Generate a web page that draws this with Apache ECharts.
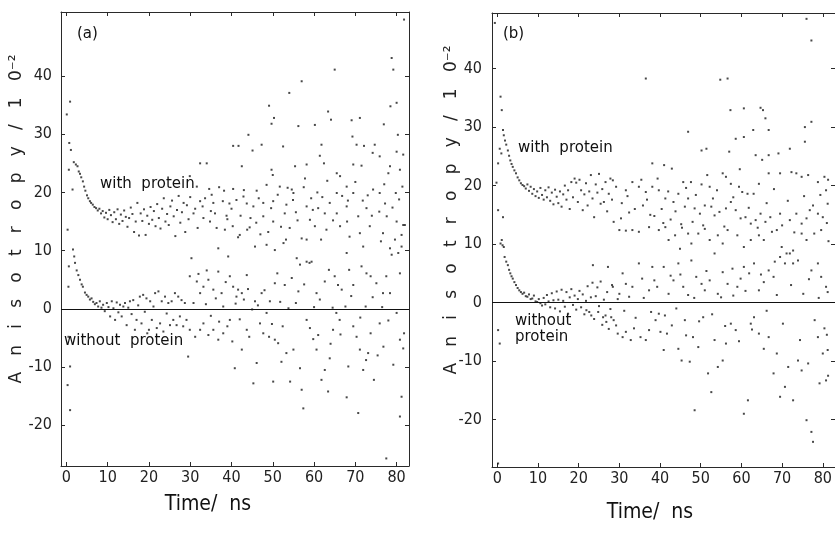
<!DOCTYPE html>
<html>
<head>
<meta charset="utf-8">
<script src="https://cdn.jsdelivr.net/npm/echarts@6/dist/echarts.min.js"></script>
<style>html,body{margin:0;padding:0;background:#fff;}#chart{width:835px;height:542px;}</style>
</head>
<body>
<div id="chart"></div>
<script>
// ---- tick values ----
const timeTicks = [0, 10, 20, 30, 40, 50, 60, 70, 80];
const anisoTicks = [-20, -10, 0, 10, 20, 30, 40];

// ---- panel (a): with protein [time ns, anisotropy x10^-2] ----
const a_with = [
[0.1,33.4],[0.9,35.6],[0.7,28.5],[1.1,27.3],[0.6,23.9],[1.5,20.5],[0.3,13.6],
[1.8,25.2],[2.3,24.8],[2.7,24.5],[3.0,23.6],[3.3,23.2],[3.6,22.6],[4.0,21.9],[4.3,21.0],[4.6,20.3],
[5.0,19.5],[5.3,19.0],[5.7,18.5],[6.0,18.2],[6.4,17.9],[6.8,17.5],[7.2,17.3],[7.6,16.9],[8.0,17.2],
[8.4,16.4],[8.8,16.8],[9.2,15.7],[9.6,16.5],[10.0,15.4],[10.4,17.0],[10.8,16.1],[11.2,14.9],[11.6,16.6],
[12.0,15.4],[12.4,17.1],[12.8,14.6],[13.2,16.2],[13.6,15.1],[14.0,16.9],[14.4,15.8],[14.8,14.1],[15.2,15.6],
[15.6,17.4],[16.0,16.3],[16.4,13.2],[16.8,15.0],[17.2,18.2],[17.6,12.6],[18.0,16.4],[18.4,15.1],[18.8,17.1],
[19.2,12.7],[19.6,16.0],[20.0,14.6],[20.4,17.5],[20.8,15.3],[21.2,16.8],[21.6,14.2],[22.0,18.0],[22.4,15.6],
[22.8,13.8],[23.2,17.2],[23.6,19.0],[24.0,15.0],[24.4,16.3],[24.8,14.4],[25.2,17.6],[25.6,18.6],[26.0,15.9],
[26.4,12.5],[26.8,17.0],[27.2,19.4],[27.6,14.8],[28.0,16.6],[28.4,18.2],[28.8,13.2],[29.2,17.8],[29.6,15.4],[30.0,19.2],
[81.8,49.7],[78.8,43.1],[79.2,41.1],[80.0,35.4],[78.5,34.8],[65.0,41.1],[57.0,39.1],[54.0,37.1],[49.1,34.9],
[50.3,32.8],[49.7,31.8],[63.4,33.9],[64.1,32.5],[56.2,31.4],[60.2,31.6],[71.1,32.8],[69.1,32.4],[76.9,31.7],
[80.3,29.9],[69.3,29.6],[70.3,28.2],[72.1,28.0],[74.7,28.2],[74.2,26.8],[75.9,26.2],[81.6,26.5],[80.0,27.0],
[44.1,29.9],[40.4,28.0],[41.7,28.0],[45.1,27.2],[47.3,28.2],[52.5,27.9],[61.8,28.2],[61.4,26.3],[62.4,25.0],
[58.2,24.8],[32.4,25.0],[34.0,25.0],[42.5,24.5],[49.7,23.9],[50.0,23.0],[55.4,24.5],[65.5,23.3],[66.3,22.8],
[69.5,24.8],[71.5,24.6],[78.0,23.3],[78.4,24.5],[80.8,23.9],[29.9,22.8],[31.6,21.0],[34.6,20.6],[37.0,20.9],
[40.4,20.6],[42.9,19.3],[46.1,20.3],[48.5,21.3],[51.7,21.0],[54.6,20.5],[55.0,19.9],[57.5,20.9],[67.9,21.0],
[65.5,19.9],[69.5,19.9],[74.3,20.5],[75.9,19.9],[79.8,19.9],[81.4,21.0],[32.4,18.5],[33.6,19.0],[35.6,18.2],
[37.9,18.5],[39.5,18.1],[41.2,18.7],[43.7,18.1],[45.3,17.6],[47.7,18.2],[50.1,18.5],[53.3,17.9],[54.9,18.7],
[58.2,17.6],[59.7,17.0],[61.0,17.3],[62.6,16.4],[63.8,18.2],[65.5,16.4],[67.9,17.6],[70.7,15.9],[72.7,17.3],
[75.8,16.7],[77.6,15.9],[80.0,15.0],[81.6,14.4],[30.8,16.4],[33.2,15.6],[34.8,15.0],[36.4,13.9],[38.4,13.6],
[40.3,14.2],[42.0,12.7],[43.8,13.6],[46.0,14.8],[47.7,15.9],[50.1,15.0],[52.9,16.4],[53.2,11.9],[54.1,13.9],
[57.0,12.1],[58.2,11.9],[60.2,14.2],[61.7,11.9],[63.0,13.6],[66.3,14.2],[68.6,12.4],[71.1,13.0],[73.5,14.2],
[76.7,13.0],[78.4,10.4],[79.6,11.9],[81.2,12.7],[82.0,14.4],[36.8,10.4],[39.2,9.0],[41.6,12.3],[45.7,10.7],
[48.5,11.0],[50.5,10.1],[52.6,11.3],[55.8,8.7],[56.6,7.6],[58.9,7.9],[67.9,9.6],[71.9,10.7],[78.8,9.3],
[80.4,9.6],[81.2,10.7],[31.2,17.2],[35.0,16.8],[38.8,16.0],[44.6,15.6],[48.9,13.2],[56.0,15.2],[59.3,19.0],
[64.6,15.2],[68.2,18.6],[73.0,19.5],[76.2,11.6],[77.2,18.1],
[31.8,13.9],[33.0,17.6],[35.2,19.6],[36.0,16.4],[38.2,20.3],[39.0,15.4],[40.0,17.2],[42.2,16.0],[43.0,20.4],
[44.4,14.0],[46.6,19.0],[47.0,12.8],[49.6,17.3],[51.2,19.6],[52.0,14.1],[53.6,20.8],[55.6,16.6],[57.8,22.4],
[59.0,15.3],[60.8,20.0],[62.0,19.2],[63.2,22.0],[66.8,19.4],[68.0,15.0],[70.0,21.8],[71.8,18.6],[74.0,16.0],
[77.0,21.4],[79.0,17.4],[80.6,18.8]
];

// ---- panel (a): without protein ----
const a_without = [
[0.5,3.8],[0.6,7.3],[0.5,-4.8],[0.9,-9.9],[0.3,-13.1],[0.9,-17.4],
[1.6,10.2],[1.9,9.0],[2.1,7.9],[2.5,6.6],[2.9,5.8],[3.3,5.0],[3.7,4.2],[4.0,3.8],[4.5,2.8],[4.9,2.4],
[5.3,2.1],[5.7,1.6],[6.1,1.8],[6.5,1.2],[6.9,0.8],[7.3,1.0],[7.7,0.4],[8.1,1.3],[8.5,0.2],[8.9,0.7],
[9.3,-0.4],[9.8,1.0],[10.2,0.3],[10.6,-1.3],[11.0,1.3],[11.4,0.1],[11.8,-1.9],[12.2,1.1],[12.6,-0.6],
[13.0,0.7],[13.4,-1.3],[13.8,0.4],[14.2,1.0],[14.6,-2.8],[15.0,0.2],[15.4,1.3],[15.8,-0.9],[16.2,1.5],
[16.6,-3.6],[17.0,-1.9],[17.4,0.6],[17.8,2.1],[18.2,-2.5],[18.6,2.4],[19.0,-0.5],[19.4,1.8],[19.6,-4.2],
[20.0,-3.6],[20.3,1.3],[20.7,-1.9],[21.1,0.4],[21.5,2.7],[21.9,-3.3],[22.3,3.0],[22.7,-2.5],[23.1,1.3],
[23.5,-3.9],[23.9,2.1],[24.3,-0.8],[24.7,1.0],[25.1,-2.8],[25.5,1.3],[25.9,-1.9],[26.3,2.7],[26.7,-2.8],
[27.1,2.1],[27.5,-1.3],[27.9,1.5],[28.3,-3.0],[28.7,1.0],[29.1,-1.9],[29.5,-8.2],
[29.9,5.6],[30.3,8.7],[31.6,4.7],[32.4,2.7],[33.2,3.8],[34.0,6.6],[34.4,5.0],[35.6,3.3],[36.8,6.4],
[37.6,2.7],[39.6,5.6],[40.4,3.8],[41.2,2.1],[41.6,3.3],[42.5,2.7],[43.7,5.8],[45.7,1.3],[47.3,2.7],
[49.3,1.3],[50.5,4.4],[51.1,6.1],[52.9,4.1],[54.6,5.3],[56.2,3.0],[58.2,8.1],[59.4,8.1],[60.6,2.7],
[62.6,4.7],[63.6,6.7],[65.0,5.6],[65.8,4.1],[66.7,3.3],[68.5,6.7],[69.5,4.1],[71.5,7.3],[72.7,6.1],
[73.7,5.6],[75.1,4.4],[76.7,2.7],[77.5,5.6],[78.4,2.7],[80.8,6.1],
[38.0,0.4],[45.0,-0.1],[53.8,0.1],[60.0,0.3],[64.5,0.2],[67.6,0.4],[72.5,0.4],[76.5,0.3],
[29.9,-3.6],[31.2,-4.8],[32.4,-3.6],[33.2,-2.5],[34.4,-4.5],[35.6,-3.6],[36.8,-5.3],[38.0,-4.2],[39.6,-1.9],
[40.2,-5.6],[40.8,-10.2],[42.5,-7.0],[43.7,-3.6],[44.3,-4.8],[45.3,-12.8],[46.1,-9.3],[46.9,-2.5],[47.7,-4.2],
[48.5,-0.7],[49.1,-4.8],[50.5,-5.3],[51.3,-5.9],[50.1,-12.5],[52.1,-9.1],[53.3,-7.6],[54.2,-12.5],[55.0,-7.0],
[56.6,-10.2],[57.0,-13.9],[57.4,-17.1],[58.2,-1.9],[59.0,-3.3],[60.6,-7.0],[61.0,-4.5],[61.8,-12.2],[62.6,-10.5],
[63.4,-14.2],[63.8,-8.5],[64.6,-3.6],[65.4,-0.7],[66.2,-1.9],[67.9,-15.2],[68.3,-9.9],[69.5,-3.0],[70.3,-4.8],
[70.7,-17.9],[71.1,-7.0],[71.9,-10.5],[72.6,-8.8],[73.1,-7.6],[73.7,-4.2],[74.5,-12.2],[75.9,-2.5],[76.8,-6.5],
[77.5,-25.7],[80.0,-0.7],[80.8,-5.3],[81.6,-6.8],[81.2,-15.1],[80.8,-18.5],[81.8,-4.2],
[30.8,1.0],[32.0,6.0],[33.8,0.8],[35.0,-1.2],[36.2,1.8],[37.0,-2.2],[38.6,4.6],[39.0,-3.0],[41.0,0.9],
[42.0,-1.8],[43.0,1.6],[44.0,3.4],[46.4,0.6],[48.0,3.2],[49.8,-2.6],[51.8,1.2],[52.4,-3.0],[55.6,1.0],
[57.6,4.2],[59.8,-5.2],[61.4,1.6],[64.0,-6.0],[66.4,-4.4],[69.0,2.2],[71.2,-1.5],[74.2,2.0],[75.4,-8.0],
[78.0,-2.0],[79.2,-9.6]
];

// ---- panel (b): with protein ----
const b_with = [
[-0.6,47.8],[0.8,35.2],[1.1,32.9],[1.4,29.5],[1.6,28.6],[0.6,26.3],[1.0,25.5],[0.2,23.8],[-0.2,20.5],[0.2,15.8],[1.4,14.6],
[1.9,27.7],[2.2,27.0],[2.6,26.0],[2.9,25.1],[3.2,24.3],[3.5,23.7],[3.8,23.2],[4.2,22.6],[4.6,22.1],[5.0,21.4],
[5.4,20.9],[5.8,20.4],[6.2,20.1],[6.6,19.9],[7.0,19.5],[7.4,20.2],[7.8,19.1],[8.2,19.8],[8.6,18.6],[9.0,19.4],
[9.4,18.2],[9.8,19.0],[10.2,17.9],[10.6,19.6],[11.0,18.4],[11.4,17.6],[11.8,19.2],[12.2,18.0],[12.6,19.7],
[13.0,17.4],[13.4,18.8],[13.8,16.8],[14.2,19.3],[14.6,18.1],[15.0,17.0],[15.4,19.0],[15.8,16.4],[16.2,18.5],
[16.6,20.0],[17.0,17.6],[17.4,19.2],[17.8,16.0],[18.2,20.6],[18.6,18.0],[19.0,21.2],[19.4,20.5],[19.8,17.2],
[20.2,21.0],[20.6,19.2],[21.0,15.8],[21.4,18.5],[21.8,20.4],[22.2,16.6],[22.6,19.0],[23.0,21.8],[23.4,17.8],
[23.8,14.6],[24.2,20.2],[24.6,18.8],[25.0,22.0],[25.4,16.9],[25.8,19.4],[26.2,17.2],[26.6,20.6],[27.0,15.6],
[27.4,18.6],[27.8,21.2],[28.2,17.6],[28.6,13.8],
[76.0,48.5],[77.2,44.8],[56.6,38.3],[54.8,38.1],[36.5,38.3],[57.3,32.9],[60.6,33.2],[64.7,33.3],[65.3,32.9],
[65.9,31.5],[66.7,29.5],[62.9,29.5],[75.6,30.0],[77.2,30.9],[58.6,28.0],[60.6,28.3],[46.9,29.2],[50.2,26.0],
[51.4,26.3],[57.0,25.8],[63.5,25.2],[65.1,24.4],[66.7,25.2],[69.1,25.5],[71.9,26.3],[75.6,27.5],[38.1,23.8],
[41.0,23.5],[42.9,22.9],[45.7,20.6],[47.6,20.6],[50.2,20.2],[52.2,19.8],[55.4,22.1],[56.2,21.5],[57.4,20.3],
[59.4,19.8],[60.2,18.9],[61.5,18.6],[64.3,20.3],[66.7,22.1],[69.5,22.1],[72.3,22.3],[73.5,22.1],[74.8,21.5],
[76.4,21.8],[78.8,20.6],[80.4,21.5],[28.4,20.9],[29.2,19.8],[31.6,19.2],[33.2,20.6],[34.8,19.8],[36.5,18.9],
[38.1,19.8],[39.7,19.2],[41.3,17.8],[43.3,17.2],[44.5,18.6],[46.1,16.4],[46.9,17.8],[48.5,16.1],[49.8,15.2],
[51.0,16.6],[52.6,16.4],[53.4,14.9],[54.6,15.5],[56.2,16.1],[57.4,17.2],[58.6,15.8],[59.8,14.4],[61.0,14.6],
[62.3,13.5],[63.5,14.1],[64.7,15.2],[65.9,13.8],[67.1,14.6],[68.7,12.4],[69.5,15.2],[71.9,14.1],[73.5,15.2],
[74.8,13.5],[76.0,14.4],[76.8,15.8],[78.8,15.2],[80.0,14.6],[81.2,16.9],[30.0,12.4],[31.6,12.3],[33.2,12.4],
[34.8,12.1],[37.3,12.9],[39.7,12.4],[41.3,12.9],[42.1,10.7],[43.7,11.5],[44.9,9.2],[46.9,11.8],[47.7,10.1],
[49.4,11.8],[51.0,12.6],[52.2,10.7],[54.2,11.5],[55.4,10.1],[56.6,12.4],[59.0,11.5],[60.6,9.5],[62.3,10.7],
[64.3,11.5],[65.5,10.7],[67.5,12.1],[69.9,9.5],[71.1,8.4],[72.7,8.9],[74.8,11.8],[76.0,10.7],[77.9,11.8],
[79.6,12.4],[30.6,17.0],[32.4,15.4],[35.8,16.6],[37.6,15.0],[40.4,16.0],[42.6,14.2],[45.2,13.4],[48.0,13.8],
[81.3,21.0],[80.8,19.2],[81.0,13.6],
[30.4,14.4],[32.0,18.2],[33.8,16.0],[35.4,21.0],[36.8,17.6],[38.6,14.8],[39.4,21.2],[40.8,13.6],[42.0,19.0],
[43.8,15.6],[45.4,12.8],[46.4,19.6],[48.8,18.4],[50.6,13.2],[51.6,21.8],[53.0,17.8],[54.0,19.2],[55.8,13.0],
[58.0,18.0],[59.6,22.8],[61.8,16.2],[63.0,18.6],[64.0,12.8],[66.2,17.0],[68.0,19.4],[70.0,13.2],[71.4,17.4],
[73.0,12.0],[75.4,18.2],[77.6,16.6],[79.4,18.4]
];

// ---- panel (b): without protein ----
const b_without = [
[0.2,-4.7],[0.6,-7.0],[0.2,-27.5],[0.8,10.1],[1.1,10.7],[1.3,9.8],[1.6,9.5],[1.8,7.8],[2.2,7.0],[2.6,6.4],
[2.9,5.6],[3.2,5.0],[3.5,4.5],[3.8,4.1],[4.2,3.5],[4.6,3.0],[5.0,2.5],[5.4,2.1],[5.8,1.8],[6.2,1.5],
[6.6,1.7],[7.0,1.1],[7.4,1.0],[7.8,1.4],[8.2,0.6],[8.6,0.7],[9.0,1.2],[9.4,0.2],[9.8,0.1],[10.2,0.6],
[10.6,-0.1],[11.0,-0.5],[11.4,0.8],[11.8,-0.3],[12.2,1.3],[12.6,0.2],[13.0,-0.8],[13.4,1.6],[13.8,0.4],
[14.2,-1.0],[14.6,1.9],[15.0,0.5],[15.4,-1.5],[15.8,2.2],[16.2,0.3],[16.6,-0.7],[17.0,1.8],[17.4,-1.9],
[17.8,0.9],[18.2,2.3],[18.6,-0.4],[19.0,1.2],[19.4,-1.2],[19.8,0.6],[20.2,2.0],[20.6,-0.8],[21.0,1.4],
[21.4,-2.0],[21.8,0.3],[22.2,2.8],[22.6,-1.6],[23.0,0.9],[23.4,3.4],[23.8,-2.8],[24.2,1.1],[24.6,2.6],
[25.0,-0.6],[25.4,3.6],[25.8,-3.8],[26.2,0.5],[26.6,-2.2],[27.0,1.8],[27.4,-4.5],[27.8,-1.1],[28.2,3.0],[28.6,-3.0],
[23.5,6.4],[27.2,6.1],[30.8,5.0],[28.4,2.7],[30.0,1.5],[31.6,3.2],[33.2,2.7],[34.8,6.7],[35.6,4.1],[37.3,2.1],
[38.1,6.1],[39.3,2.7],[40.9,6.1],[42.1,1.5],[43.3,3.8],[44.5,6.7],[45.7,2.7],[46.9,1.3],[47.7,7.2],[48.9,4.4],
[50.2,3.2],[51.0,2.1],[52.2,3.8],[53.4,8.4],[54.2,1.5],[55.4,5.2],[56.6,3.2],[57.8,5.8],[59.0,2.7],[59.8,4.1],
[60.6,6.1],[61.9,5.0],[63.1,6.7],[64.3,2.1],[65.5,3.5],[66.7,5.5],[67.9,4.4],[68.7,1.3],[69.5,7.8],[70.7,6.7],
[71.9,8.4],[72.7,6.7],[73.9,7.2],[75.2,1.5],[77.2,5.5],[78.8,6.7],[79.6,4.4],[80.8,2.7],
[21.9,-1.3],[23.1,-2.2],[24.8,-1.6],[26.0,-2.5],[26.8,-3.3],[28.0,-2.5],[29.2,-3.9],[29.6,-5.3],[30.8,-5.9],
[31.6,-5.0],[32.8,-6.4],[33.6,-4.4],[35.2,-5.9],[36.5,-6.4],[37.3,-4.7],[38.9,-3.0],[39.7,-1.9],[40.1,-5.0],
[40.9,-8.1],[41.7,-5.3],[42.9,-3.9],[44.5,-7.9],[45.3,-9.9],[46.1,-3.0],[47.3,-10.1],[48.1,-5.9],[48.5,-18.4],
[49.4,-7.6],[50.6,-2.5],[51.8,-12.1],[52.6,-15.3],[53.4,-6.4],[54.2,-11.0],[55.4,-9.9],[56.2,-7.0],[57.4,-3.6],
[58.6,-4.7],[60.6,-19.0],[61.6,-16.7],[62.3,-3.6],[63.1,-2.5],[64.3,-5.3],[65.5,-7.9],[66.7,-5.9],[67.9,-12.1],
[68.7,-8.7],[69.5,-16.1],[70.7,-14.4],[71.5,-11.0],[72.7,-16.7],[73.9,-9.9],[74.8,-11.6],[76.0,-20.1],[77.2,-22.1],
[77.6,-23.8],[76.4,-10.4],[78.8,-5.9],[80.0,-8.7],[80.8,-13.3],[79.2,-13.8],[78.0,-3.0],[80.4,-4.4],[81.2,-8.1],
[81.4,10.5],[81.2,1.8],[81.0,-5.5],[81.3,-12.5],
[29.6,0.6],[31.2,-1.4],[32.4,1.0],[34.0,-2.6],[36.0,0.8],[37.8,-1.6],[38.6,3.8],[41.2,-2.2],[42.6,4.6],
[44.0,-1.0],[45.0,4.8],[46.4,-5.6],[48.4,0.8],[49.6,-3.2],[51.4,5.4],[52.8,-2.0],[55.0,0.9],[56.0,-4.0],
[58.0,1.2],[59.4,-6.6],[61.0,2.0],[62.6,-4.6],[64.8,4.8],[66.2,-1.4],[68.2,7.0],[70.2,-3.6],[72.2,3.0],
[74.4,-6.4],[76.6,4.0],[79.0,0.8]
];

// ---- axis ranges of the two panels ----
const xRange = [-1.3, 83];
const yRangeA = [-27, 51];
const yRangeB = [-28.1, 49.5];

const tickFont = "'Liberation Sans Narrow','DejaVu Sans Condensed','Arial Narrow',sans-serif";
const textFont = "'DejaVu Sans',sans-serif";
const lineCol = '#2a2a2a';

function xAx(gi, pos, labels) {
  return {
    type: 'value', gridIndex: gi, position: pos, min: xRange[0], max: xRange[1],
    axisLine: { show: true, onZero: false, lineStyle: { color: lineCol, width: 1 } },
    axisTick: { show: true, inside: true, length: 4, customValues: timeTicks, lineStyle: { color: lineCol } },
    axisLabel: { show: labels, customValues: timeTicks, margin: 4, fontFamily: tickFont, fontSize: 16, color: '#222' },
    splitLine: { show: false }
  };
}
function yAx(gi, pos, range, labels, margin) {
  return {
    type: 'value', gridIndex: gi, position: pos, min: range[0], max: range[1],
    axisLine: { show: true, onZero: false, lineStyle: { color: lineCol, width: 1 } },
    axisTick: { show: true, inside: true, length: 4, customValues: anisoTicks, lineStyle: { color: lineCol } },
    axisLabel: { show: labels, customValues: anisoTicks, margin: margin, fontFamily: tickFont, fontSize: 16, color: '#222' },
    splitLine: { show: false }
  };
}
function dots(data, xi, yi, zero) {
  const s = {
    type: 'scatter', xAxisIndex: xi, yAxisIndex: yi, data: data,
    symbol: 'rect', symbolSize: 2, itemStyle: { color: '#1a1a1a' }, silent: true, animation: false
  };
  if (zero) {
    s.markLine = {
      silent: true, symbol: 'none', label: { show: false }, animation: false,
      lineStyle: { color: '#111', width: 1, type: 'solid' },
      data: [{ yAxis: 0 }]
    };
  }
  return s;
}

const chart = echarts.init(document.getElementById('chart'), null, { renderer: 'canvas' });
const yTitle = 'A   n   i   s   o   t   r   o   p   y   /   1   0⁻²';
chart.setOption({
  backgroundColor: '#ffffff',
  animation: false,
  grid: [
    { left: 61, top: 12, width: 348, height: 454 },
    { left: 492, top: 13, width: 349, height: 454 }
  ],
  xAxis: [ xAx(0, 'bottom', true), xAx(0, 'top', false), xAx(1, 'bottom', true), xAx(1, 'top', false) ],
  yAxis: [ yAx(0, 'left', yRangeA, true, 9), yAx(0, 'right', yRangeA, false, 8),
           yAx(1, 'left', yRangeB, true, 10), yAx(1, 'right', yRangeB, false, 8) ],
  series: [
    dots(a_with, 0, 0, false),
    dots(a_without, 0, 0, true),
    dots(b_with, 2, 2, false),
    dots(b_without, 2, 2, true)
  ],
  graphic: [
    { type: 'text', left: 77, top: 27, style: { text: '(a)', font: '15px ' + textFont, fill: '#111' } },
    { type: 'text', left: 100, top: 177, style: { text: 'with  protein', font: '15px ' + textFont, fill: '#111' } },
    { type: 'text', left: 64, top: 334, style: { text: 'without  protein', font: '15px ' + textFont, fill: '#111' } },
    { type: 'text', left: 503, top: 27, style: { text: '(b)', font: '15px ' + textFont, fill: '#111' } },
    { type: 'text', left: 518, top: 141, style: { text: 'with  protein', font: '15px ' + textFont, fill: '#111' } },
    { type: 'text', left: 515, top: 313, style: { text: 'without\nprotein', font: '15px ' + textFont, lineHeight: 16, fill: '#111' } },
    { type: 'text', x: 17, y: 219, rotation: Math.PI / 2,
      style: { text: yTitle, font: '17px ' + textFont, fill: '#222', align: 'center', verticalAlign: 'middle' } },
    { type: 'text', x: 452, y: 210, rotation: Math.PI / 2,
      style: { text: yTitle, font: '17px ' + textFont, fill: '#222', align: 'center', verticalAlign: 'middle' } },
    { type: 'text', x: 208, y: 505,
      style: { text: 'Time/  ns', font: '21px ' + tickFont, fill: '#111', align: 'center', verticalAlign: 'middle' } },
    { type: 'text', x: 650, y: 513,
      style: { text: 'Time/  ns', font: '21px ' + tickFont, fill: '#111', align: 'center', verticalAlign: 'middle' } }
  ]
});
</script>
</body>
</html>
